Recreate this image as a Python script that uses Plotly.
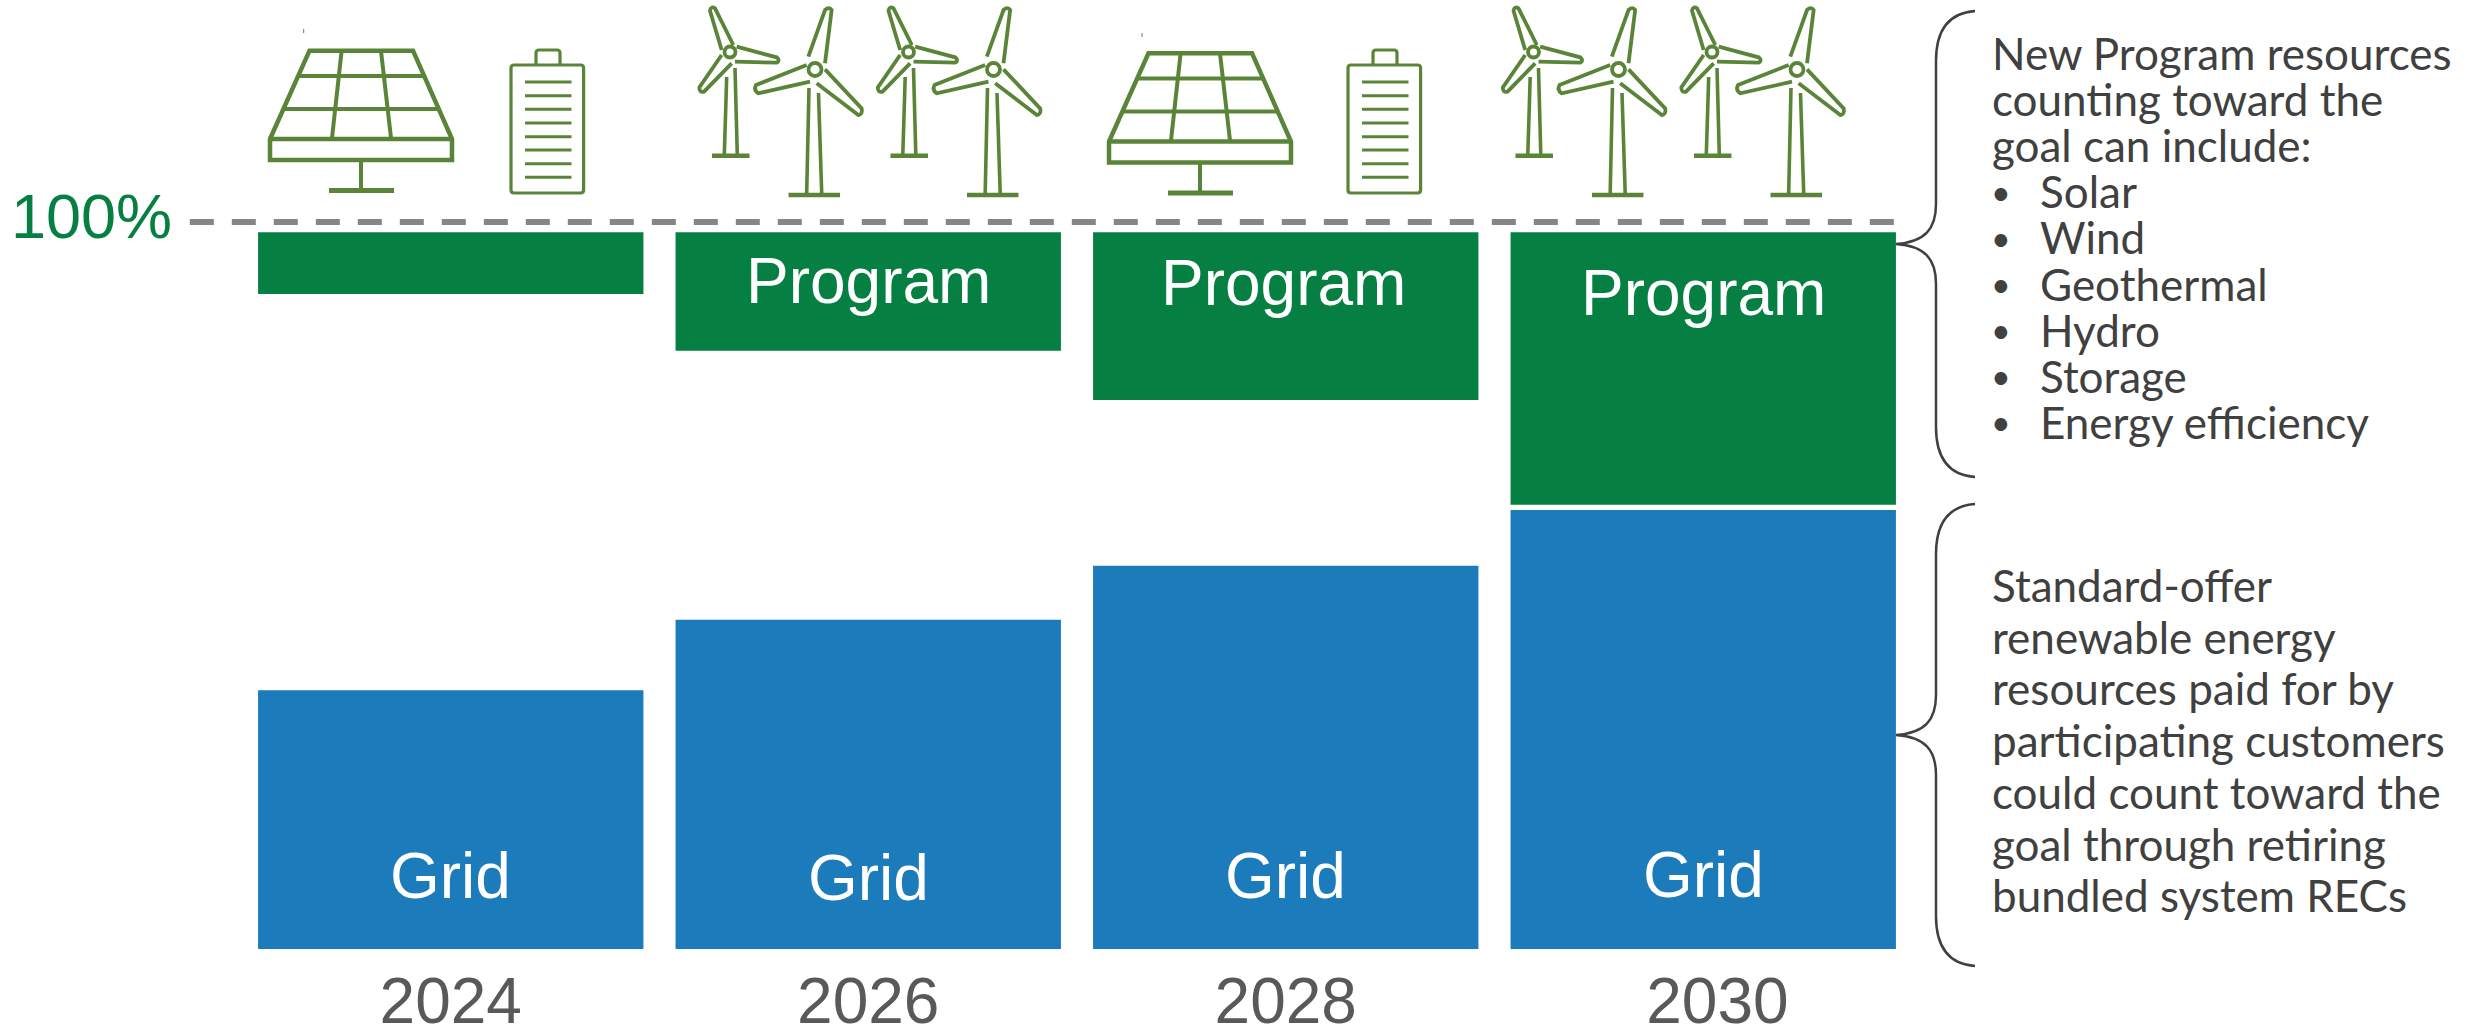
import plotly.graph_objects as go

W, H = 2481, 1028

years = ["2024", "2026", "2028", "2030"]
bar_index = [0, 1, 2, 3]
tick_positions = [0, 1, 2, 3.034]
grid_values = [35.6, 45.3, 52.7, 60.4]
program_values = [8.5, 16.3, 23.1, 37.5]
program_base = [90.1, 82.3, 75.5, 61.1]
goal_value = 100

program_labels = ["", "Program", "Program", "Program"]
grid_labels = ["Grid", "Grid", "Grid", "Grid"]
program_label_px = [281, 281, 283, 293]
program_label_shift = [0, 0, -2, 0]
grid_label_px = [876, 878, 876, 875]

block1 = ["New Program resources", "counting toward the", "goal can include:"]
bullets = ["Solar", "Wind", "Geothermal", "Hydro", "Storage", "Energy efficiency"]
block2 = ["Standard-offer", "renewable energy", "resources paid for by",
          "participating customers", "could count toward the",
          "goal through retiring", "bundled system RECs"]

GREEN = "#067F42"
BLUE = "#1C7BBA"
ICON = "#5A8538"
TEXT = "#404040"
AXIS_TEXT = "#595959"

SMALL_BLADES = [
    [(160, 135), (105, 25), (90, 32), (125, 150)],
    [(170, 140), (290, 172), (290, 188), (165, 185)],
    [(125, 165), (58, 262), (72, 275), (155, 190)],
]
BIG_BLADES = [
    [(385, 170), (435, 30), (455, 30), (435, 190)],
    [(380, 195), (228, 255), (235, 280), (390, 245)],
    [(435, 208), (545, 325), (535, 345), (410, 250)],
]
CROP_X = 680


def px(x):
    return x / W


def py(y):
    return 1 - y / H


shapes = []


def line(x0, y0, x1, y1, w=3.5, color=ICON):
    shapes.append(dict(type="line", xref="paper", yref="paper", x0=px(x0), y0=py(y0),
                       x1=px(x1), y1=py(y1), line=dict(color=color, width=w), layer="above"))


def path(cmds, w=3.5, color=ICON, fill=None):
    s = ""
    for c in cmds:
        s += c[0]
        vals = c[1:]
        parts = []
        for i in range(0, len(vals), 2):
            parts.append(f"{px(vals[i]):.5f},{py(vals[i + 1]):.5f}")
        s += " ".join(parts) + " "
    shapes.append(dict(type="path", xref="paper", yref="paper", path=s.strip(),
                       line=dict(color=color, width=w),
                       fillcolor=fill or "rgba(0,0,0,0)", layer="above"))


def solar(dx, dy):
    xl = lambda y: 309.5 + (y - 50.7) / (138 - 50.7) * (270 - 309.5)
    xr = lambda y: 413 + (y - 50.7) / (138 - 50.7) * (452 - 413)
    path([("M", 309.5 + dx, 50.7 + dy), ("L", 413 + dx, 50.7 + dy), ("L", 452 + dx, 139 + dy),
          ("L", 452 + dx, 160 + dy), ("L", 270 + dx, 160 + dy), ("L", 270 + dx, 139 + dy), ("Z",)], w=4.5)
    line(270 + dx, 139 + dy, 452 + dx, 139 + dy, 4.5)
    for y in (76, 109):
        line(xl(y) + dx, y + dy, xr(y) + dx, y + dy, 4)
    line(341.6 + dx, 51 + dy, 332 + dx, 138 + dy, 4)
    line(381 + dx, 51 + dy, 391 + dx, 138 + dy, 4)
    line(361 + dx, 160 + dy, 361 + dx, 190 + dy, 4)
    line(329 + dx, 190.5 + dy, 394 + dx, 190.5 + dy, 5)


def battery(dx, dy):
    path([("M", 511 + dx, 68 + dy), ("Q", 511 + dx, 65 + dy, 514 + dx, 65 + dy),
          ("L", 580.6 + dx, 65 + dy), ("Q", 583.6 + dx, 65 + dy, 583.6 + dx, 68 + dy),
          ("L", 583.6 + dx, 190 + dy), ("Q", 583.6 + dx, 193 + dy, 580.6 + dx, 193 + dy),
          ("L", 514 + dx, 193 + dy), ("Q", 511 + dx, 193 + dy, 511 + dx, 190 + dy), ("Z",)], w=3.2)
    path([("M", 536 + dx, 65 + dy), ("L", 536 + dx, 53 + dy), ("Q", 536 + dx, 50 + dy, 539 + dx, 50 + dy),
          ("L", 557 + dx, 50 + dy), ("Q", 560 + dx, 50 + dy, 560 + dx, 53 + dy),
          ("L", 560 + dx, 65 + dy)], w=3.2)
    for y in (82, 95.7, 109.3, 123, 136.7, 150, 163.7, 177.3):
        line(525 + dx, y + dy, 571.5 + dx, y + dy, 3)


def blade(pts, dx):
    q = [(CROP_X + a / 3 + dx, b / 3) for a, b in pts]
    (x0, y0), (x1, y1), (x2, y2), (x3, y3) = q
    ex, ey = (x1 + x2) / 2, (y1 + y2) / 2
    bx, by = (x0 + x3) / 2, (y0 + y3) / 2
    L = ((ex - bx) ** 2 + (ey - by) ** 2) ** 0.5
    cx, cy = ex + (ex - bx) / L * 4, ey + (ey - by) / L * 4
    path([("M", x0, y0), ("L", x1, y1), ("Q", cx, cy, x2, y2), ("L", x3, y3)], w=3.8)


def circle(cx, cy, r, w=3.8):
    shapes.append(dict(type="circle", xref="paper", yref="paper",
                       x0=px(cx - r), x1=px(cx + r), y0=py(cy - r), y1=py(cy + r),
                       line=dict(color=ICON, width=w), layer="above"))


def turbine_small(dx):
    for b in SMALL_BLADES:
        blade(b, dx)
    circle(730 + dx, 52, 5.5)
    line(726.7 + dx, 77, 724.3 + dx, 155, 3.6)
    line(735 + dx, 68, 737.3 + dx, 155, 3.6)
    line(712 + dx, 155.7, 749.5 + dx, 155.7, 4.4)


def turbine_big(dx):
    for b in BIG_BLADES:
        blade(b, dx)
    circle(815 + dx, 69.5, 6.5)
    line(809 + dx, 88, 806.7 + dx, 193, 3.6)
    line(818.5 + dx, 93, 821.7 + dx, 193, 3.6)
    line(788.5 + dx, 195, 840 + dx, 195, 4.4)


def brace(top, mid, bot):
    xv, xt, xm = 1936, 1975, 1896
    path([("M", xt, top), ("C", 1948, top + 2, xv, top + 20, xv, top + 50),
          ("L", xv, mid - 40), ("C", xv, mid - 15, 1925, mid - 2, xm, mid),
          ("C", 1925, mid + 2, xv, mid + 15, xv, mid + 40),
          ("L", xv, bot - 50), ("C", xv, bot - 20, 1948, bot - 2, xt, bot)],
         w=2.5, color="#404040")


solar(0, 0)
battery(0, 0)
solar(839, 2.5)
battery(837, 0)
line(303.7, 29, 303.7, 33, 1)
line(1142, 33, 1142, 37, 1)
for off in (0, 803.5):
    turbine_small(off)
    turbine_big(off)
    turbine_small(off + 178.5)
    turbine_big(off + 178.5)
brace(11, 244, 477)
brace(504, 735, 966)

fig = go.Figure()
fig.add_trace(go.Bar(x=bar_index, y=grid_values, marker=dict(color=BLUE, line=dict(width=0)),
                     name="Grid", width=0.923))
fig.add_trace(go.Bar(x=bar_index, y=program_values, base=program_base,
                     marker=dict(color=GREEN, line=dict(width=0)), name="Program", width=0.923))
fig.add_trace(go.Scatter(x=[-0.625, 3.458], y=[goal_value, goal_value], mode="lines",
                         line=dict(color="#868686", width=6, dash="24px,18px"),
                         name="100%"))

ann = []


def label(x, y, text, size, color, anchor="center", family="Liberation Sans", xref="paper", xshift=0):
    ann.append(dict(x=x, y=py(y), xref=xref, yref="paper", text=text, showarrow=False,
                    xanchor=anchor, yanchor="middle", align="left", xshift=xshift,
                    font=dict(family=family, size=size, color=color)))


for i, t in enumerate(program_labels):
    if t:
        label(bar_index[i], program_label_px[i], t, 64, "#FFFFFF", xref="x", xshift=program_label_shift[i])
for i, t in enumerate(grid_labels):
    label(bar_index[i], grid_label_px[i], t, 64, "#FFFFFF", xref="x")
label(px(91), 216, "100%", 63, GREEN)

BODY = "Lato"
BODY_SIZE = 44
TX = 1990
y = 53
for t in block1:
    label(px(TX), y, t, BODY_SIZE, TEXT, "left", BODY)
    y += 46.1
for t in bullets:
    label(px(1989), y, "•", 34, TEXT, "left", BODY)
    label(px(2038), y, t, BODY_SIZE, TEXT, "left", BODY)
    y += 46.1
y = 585
for t in block2:
    label(px(TX), y, t, BODY_SIZE, TEXT, "left", BODY)
    y += 51.7

band = 417.5
fig.update_layout(
    width=W, height=H, margin=dict(l=0, r=0, t=0, b=0, pad=0), autosize=False,
    paper_bgcolor="white", plot_bgcolor="white", showlegend=False, barmode="overlay",
    shapes=shapes, annotations=ann,
    xaxis=dict(domain=[0, 1912 / W], range=[-0.5 - 242 / band, 3.5], tickmode="array", automargin=False,
               tickvals=tick_positions, ticktext=years, showgrid=False, zeroline=False,
               showline=False, ticks="", ticklabelstandoff=9,
               tickfont=dict(family="Liberation Sans", size=64, color=AXIS_TEXT)),
    yaxis=dict(domain=[79 / H, 1], range=[0, 949 / 7.27], visible=False, showgrid=False,
               zeroline=False, automargin=False),
)
fig.write_html("out.html", config={"displayModeBar": False},
               post_script="document.body.style.margin='0';document.body.style.overflow='hidden';")
